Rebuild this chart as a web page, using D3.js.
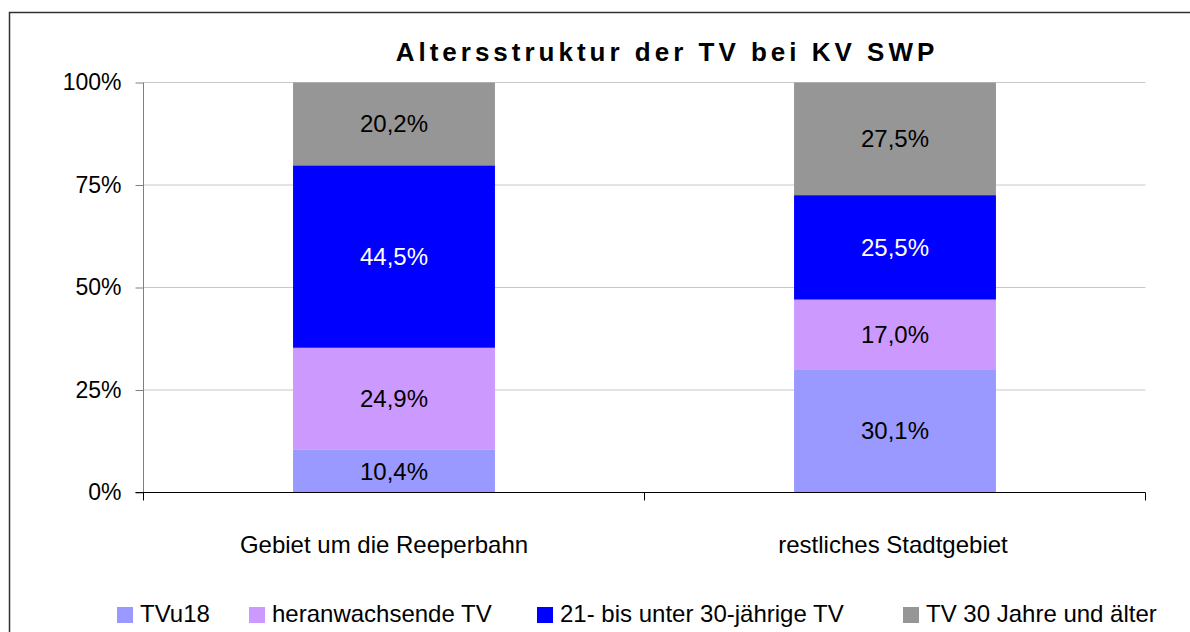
<!DOCTYPE html>
<html>
<head>
  <meta charset="utf-8">
  <style type="text/css">
    body { margin: 0; background: #fff; }
    svg { display: block; font-family: Arial, "Liberation Sans", sans-serif; }
    .title { font: bold 26px Arial, "Liberation Sans", sans-serif; letter-spacing: 4px; }
    .axis text { font-size: 23px; fill: #000; }
    .lbl { font-size: 24px; }
    .legend text { font-size: 24px; fill: #000; }
  </style>
</head>
<body>
<svg width="1190" height="632"></svg>
<script src="https://d3js.org/d3.v7.min.js"></script>
<script>
// data
var categories = ["Gebiet um die Reeperbahn", "restliches Stadtgebiet"];
var seriesNames = ["TVu18", "heranwachsende TV", "21- bis unter 30-jährige TV", "TV 30 Jahre und älter"];
var tvu18      = [10.4, 30.1];
var heranw     = [24.9, 17.0];
var tv21bis30  = [44.5, 25.5];
var tv30plus   = [20.2, 27.5];
var yTicks     = [0, 0.25, 0.5, 0.75, 1];

var colors = ["#9999ff", "#cc99ff", "#0000ff", "#969696"];
var labelColors = ["#000", "#000", "#fff", "#000"];

var svg = d3.select("svg");
var W = 1190, H = 632;

// outer frame
svg.append("rect")
    .attr("x", 9.5).attr("y", 12.5)
    .attr("width", W + 20).attr("height", H + 20)
    .attr("fill", "#fff")
    .attr("stroke", "#333")
    .attr("stroke-width", 1.5);

svg.append("text")
    .attr("class", "title")
    .attr("x", 667)
    .attr("y", 61)
    .attr("text-anchor", "middle")
    .text("Altersstruktur der TV bei KV SWP");

var pLeft = 143.5, pRight = 1145.5, pTop = 82.5, pBottom = 492.5;

var x = d3.scaleBand()
    .domain(categories)
    .range([pLeft, pRight])
    .padding(0);

var y = d3.scaleLinear()
    .domain([0, 1])
    .range([pBottom, pTop]);

// rows -> stacked shares
var rows = categories.map(function(c, i) {
  var vals = [tvu18[i], heranw[i], tv21bis30[i], tv30plus[i]];
  var total = d3.sum(vals);
  var r = { cat: c };
  seriesNames.forEach(function(s, k) { r[s] = vals[k] / total; r[s + "_raw"] = vals[k]; });
  return r;
});

var stack = d3.stack().keys(seriesNames);
var layers = stack(rows);

// gridlines
svg.append("g")
  .selectAll("line")
  .data(yTicks.slice(1))
  .enter().append("line")
    .attr("x1", pLeft).attr("x2", pRight)
    .attr("y1", function(d) { return y(d); })
    .attr("y2", function(d) { return y(d); })
    .attr("stroke", "#c8c8c8")
    .attr("stroke-width", 1);

var barW = x.bandwidth() * 0.403;

var loc = d3.formatLocale({ decimal: ",", thousands: ".", grouping: [3], currency: ["", "€"] });
var fmt = loc.format(".1f");

var layer = svg.append("g")
  .selectAll("g")
  .data(layers)
  .enter().append("g")
    .attr("fill", function(d, i) { return colors[i]; });

layer.selectAll("rect")
  .data(function(d) { return d; })
  .enter().append("rect")
    .attr("x", function(d) { return x(d.data.cat) + (x.bandwidth() - barW) / 2; })
    .attr("y", function(d) { return y(d[1]); })
    .attr("width", barW)
    .attr("height", function(d) { return y(d[0]) - y(d[1]); });

layer.each(function(L, i) {
  d3.select(this).selectAll("text")
    .data(L)
    .enter().append("text")
      .attr("class", "lbl")
      .attr("x", function(d) { return x(d.data.cat) + x.bandwidth() / 2; })
      .attr("y", function(d) { return (y(d[0]) + y(d[1])) / 2; })
      .attr("dy", "0.35em")
      .attr("text-anchor", "middle")
      .attr("fill", labelColors[i])
      .text(function(d) { return fmt(d.data[L.key + "_raw"]) + "%"; });
});

// y axis
var yAxis = svg.append("g")
    .attr("class", "axis")
    .attr("transform", "translate(" + pLeft + ",0)")
    .call(d3.axisLeft(y).tickValues(yTicks).tickFormat(d3.format(".0%")).tickSize(8).tickPadding(14));
yAxis.selectAll("path, line").attr("stroke", "#808080");
yAxis.select(".domain").attr("d", "M0," + pTop + "V" + pBottom);

// x axis with ticks between categories
var xg = svg.append("g").attr("class", "axis");
xg.append("line")
    .attr("x1", pLeft - 8).attr("x2", pRight)
    .attr("y1", pBottom).attr("y2", pBottom)
    .attr("stroke", "#000");
xg.selectAll("line.tk")
  .data(categories.map(function(c) { return x(c); }).concat([pRight]))
  .enter().append("line")
    .attr("class", "tk")
    .attr("x1", function(d) { return d; }).attr("x2", function(d) { return d; })
    .attr("y1", pBottom).attr("y2", pBottom + 8)
    .attr("stroke", "#000");
xg.selectAll("text")
  .data(categories)
  .enter().append("text")
    .attr("x", function(d, i) { return x(d) + x.bandwidth() / 2 - (i === 0 ? 10 : 2); })
    .attr("y", 553)
    .attr("text-anchor", "middle")
    .style("font-size", "24px")
    .text(function(d) { return d; });

// legend
var legendX = [117, 249, 537, 903];
var legend = svg.append("g")
    .attr("class", "legend")
  .selectAll("g")
  .data(seriesNames)
  .enter().append("g")
    .attr("transform", function(d, i) { return "translate(" + legendX[i] + ",607)"; });

legend.append("rect")
    .attr("width", 16).attr("height", 16)
    .attr("fill", function(d, i) { return colors[i]; });

legend.append("text")
    .attr("x", 23)
    .attr("y", 15)
    .text(function(d) { return d; });
</script>
</body>
</html>
